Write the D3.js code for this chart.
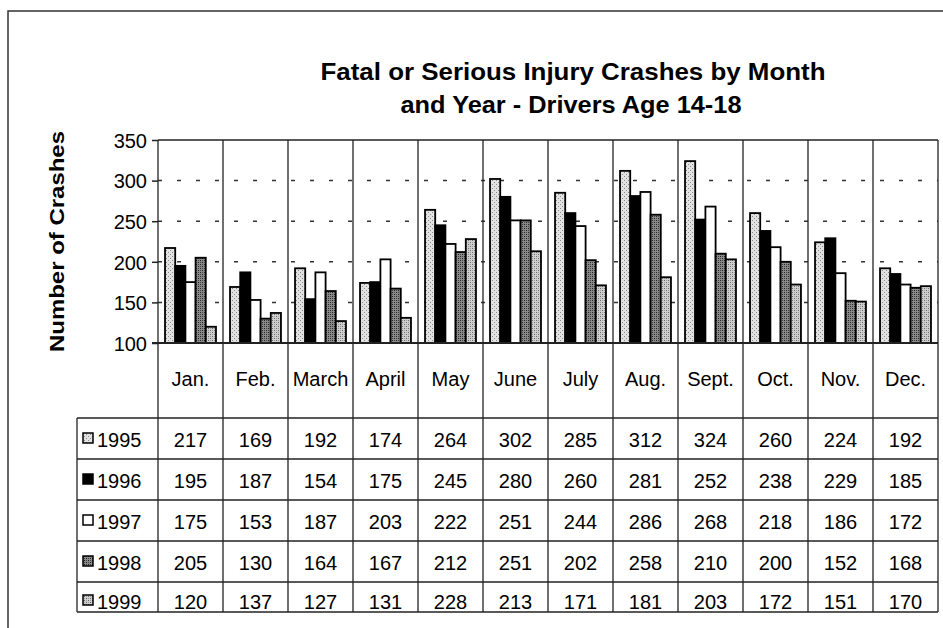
<!DOCTYPE html>
<html><head><meta charset="utf-8">
<script src="https://cdn.jsdelivr.net/npm/d3@7/dist/d3.min.js"></script>
<style>
html,body{margin:0;padding:0;background:#fff;}
svg text{font-family:"Liberation Sans",Arial,Helvetica,sans-serif;fill:#000;}
</style></head>
<body>
<svg id="chart" width="943" height="628"></svg>
<script>
const months = ["Jan.","Feb.","March","April","May","June","July","Aug.","Sept.","Oct.","Nov.","Dec."];
const years = ["1995","1996","1997","1998","1999"];
const v1995 = [217,169,192,174,264,302,285,312,324,260,224,192];
const v1996 = [195,187,154,175,245,280,260,281,252,238,229,185];
const v1997 = [175,153,187,203,222,251,244,286,268,218,186,172];
const v1998 = [205,130,164,167,212,251,202,258,210,200,152,168];
const v1999 = [120,137,127,131,228,213,171,181,203,172,151,170];
const yTicks = [100,150,200,250,300,350];
const titleLines = ["Fatal or Serious Injury Crashes by Month","and Year - Drivers Age 14-18"];
const yLabel = "Number of Crashes";

const series = [v1995,v1996,v1997,v1998,v1999];

const svg = d3.select("#chart");
const W = 943, H = 628;
const L = 158, R = 938, T = 140, B = 343;
const tableTop = 418, tableLeft = 77;
const rowLines = [418,459,500,541,582,612];

// patterns
const defs = svg.append("defs");
function stipple(id, bg, dot, dot2){
  const p = defs.append("pattern").attr("id",id).attr("patternUnits","userSpaceOnUse")
    .attr("width",4).attr("height",4);
  p.append("rect").attr("width",4).attr("height",4).attr("fill",bg);
  p.append("rect").attr("x",0).attr("y",0).attr("width",1).attr("height",1).attr("fill",dot);
  p.append("rect").attr("x",2).attr("y",2).attr("width",1).attr("height",1).attr("fill",dot);
  if(dot2){
    p.append("rect").attr("x",2).attr("y",0).attr("width",1).attr("height",1).attr("fill",dot2);
    p.append("rect").attr("x",0).attr("y",2).attr("width",1).attr("height",1).attr("fill",dot2);
  }
}
stipple("p95","#e2e2e2","#8a8a8a");
stipple("p98","#8a8a8a","#222","#444");
stipple("p99","#cfcfcf","#6a6a6a","#9a9a9a");
const fills = ["url(#p95)","#000","#fff","url(#p98)","url(#p99)"];

svg.append("rect").attr("width",W).attr("height",H).attr("fill","#fff");

// outer border
svg.append("path").attr("d",`M8,${H} L8,11 L${W},11`).attr("fill","none")
  .attr("stroke","#333").attr("stroke-width",1.5);

// scales
const x = d3.scaleBand().domain(months).range([L,R]).paddingInner(0).paddingOuter(0);
const xi = d3.scaleBand().domain(years).range([0,x.bandwidth()]).paddingInner(0).paddingOuter(0.69);
const y = d3.scaleLinear().domain([100,350]).range([B,T]);

// title
const title = svg.append("g");
title.append("text").attr("x",573).attr("y",80).attr("text-anchor","middle")
  .attr("font-size",23).attr("font-weight","bold")
  .attr("textLength",505).attr("lengthAdjust","spacingAndGlyphs").text(titleLines[0]);
title.append("text").attr("x",571).attr("y",113).attr("text-anchor","middle")
  .attr("font-size",23).attr("font-weight","bold")
  .attr("textLength",341).attr("lengthAdjust","spacingAndGlyphs").text(titleLines[1]);

// y label
svg.append("text").attr("transform",`translate(64,${(131+352)/2}) rotate(-90)`)
  .attr("text-anchor","middle").attr("font-size",20).attr("font-weight","bold")
  .attr("textLength",221).attr("lengthAdjust","spacingAndGlyphs").text(yLabel);

// gridlines (dashed)
svg.append("g").selectAll("line").data(yTicks.filter(t=>t>100 && t<350)).join("line")
  .attr("x1",L).attr("x2",R).attr("y1",d=>y(d)).attr("y2",d=>y(d))
  .attr("stroke","#333").attr("stroke-width",1.5).attr("stroke-dasharray","4 15");

// y axis
const yAxis = d3.axisLeft(y).tickValues(yTicks).tickSize(6).tickPadding(5);
const ya = svg.append("g").attr("transform",`translate(${L},0)`).call(yAxis);
ya.select(".domain").remove();
ya.selectAll(".tick line").attr("stroke","#222").attr("stroke-width",1.5);
ya.selectAll(".tick text").attr("font-size",20).attr("font-family","Liberation Sans, Arial, sans-serif")
  .attr("fill","#000").attr("dy","0.36em");

// bars
const bars = svg.append("g");
years.forEach((yr,si)=>{
  bars.append("g").selectAll("rect").data(series[si]).join("rect")
    .attr("x",(d,i)=>x(months[i])+xi(yr))
    .attr("width",xi.bandwidth())
    .attr("y",d=>y(d))
    .attr("height",d=>y(100)-y(d))
    .attr("fill",fills[si]).attr("stroke","#000").attr("stroke-width",1.8);
});

// frame lines
const fr = svg.append("g").attr("stroke","#222").attr("fill","none");
fr.append("line").attr("x1",L).attr("x2",R).attr("y1",T).attr("y2",T).attr("stroke-width",1.5);
fr.append("line").attr("x1",L-6).attr("x2",R).attr("y1",B).attr("y2",B).attr("stroke-width",2);
// vertical separators through plot and table
const vx = months.map(m=>x(m)).concat([R]);
fr.selectAll("line.v").data(vx).join("line").attr("class","v")
  .attr("x1",d=>d).attr("x2",d=>d).attr("y1",T).attr("y2",rowLines[rowLines.length-1])
  .attr("stroke-width",1.3);
// table horizontal lines
fr.selectAll("line.h").data(rowLines).join("line").attr("class","h")
  .attr("x1",tableLeft).attr("x2",R).attr("y1",d=>d).attr("y2",d=>d).attr("stroke-width",1.3);
fr.append("line").attr("x1",tableLeft).attr("x2",tableLeft).attr("y1",tableTop)
  .attr("y2",rowLines[rowLines.length-1]).attr("stroke-width",1.3);

// month labels
svg.append("g").selectAll("text").data(months).join("text")
  .attr("x",d=>x(d)+x.bandwidth()/2).attr("y",386).attr("text-anchor","middle")
  .attr("font-size",20).text(d=>d);

// table rows
years.forEach((yr,si)=>{
  const by = rowLines[si] + (si<4 ? 29 : 27);
  const g = svg.append("g");
  g.append("rect").attr("x",83).attr("y",by-14).attr("width",10).attr("height",10)
    .attr("fill",fills[si]).attr("stroke","#000").attr("stroke-width",1.5);
  g.append("text").attr("x",97).attr("y",by).attr("font-size",20).text(yr);
  g.selectAll("text.val").data(series[si]).join("text").attr("class","val")
    .attr("x",(d,i)=>x(months[i])+x.bandwidth()/2).attr("y",by)
    .attr("text-anchor","middle").attr("font-size",20).text(d=>d);
});
</script>
</body></html>
